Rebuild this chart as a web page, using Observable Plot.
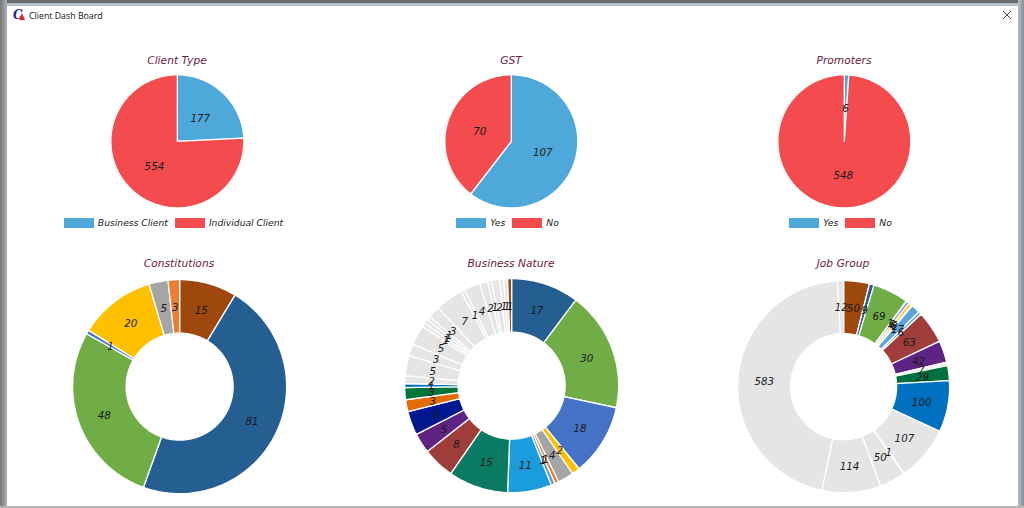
<!DOCTYPE html>
<html><head><meta charset="utf-8">
<script src="https://cdn.jsdelivr.net/npm/d3@7"></script>
<script src="https://cdn.jsdelivr.net/npm/@observablehq/plot@0.6"></script>
<style>
html,body{margin:0;padding:0;background:#fff;overflow:hidden}
body{width:1024px;height:508px;position:relative;font-family:"DejaVu Sans",sans-serif}
.abs{position:absolute}
.title{position:absolute;width:300px;text-align:center;font-style:italic;font-size:10.7px;color:#6b2142;line-height:14px}
.legend{position:absolute;width:320px;display:flex;justify-content:center;align-items:center;font-style:italic;font-size:9.2px;color:#222;line-height:12px}
.sw{display:inline-block;width:30px;height:10px;margin-right:4px}
.it{margin-right:7px;display:flex;align-items:center}
svg{overflow:visible}
</style></head><body>
<div class="abs" style="left:0;top:0;width:1024px;height:3px;background:#6a6a6a"></div>
<div class="abs" style="left:0;top:3px;width:1024px;height:3px;background:#b4c0c8"></div>
<div class="abs" style="left:0;top:0;width:7px;height:507px;background:linear-gradient(90deg,#777,#aab4ba)"></div>
<div class="abs" style="left:1018px;top:0;width:6px;height:507px;background:linear-gradient(90deg,#b4c0c8,#8a9196)"></div>
<div class="abs" style="left:0;top:506px;width:1024px;height:2px;background:#b5b5b5"></div>
<svg class="abs" style="left:13px;top:9px" width="14" height="13" viewBox="0 0 14 13"><text x="0" y="10" font-size="12" font-weight="bold" font-style="italic" fill="#1c2a8c" font-family="DejaVu Serif">C</text><path d="M6 11 L9 4 L12 11 Z" fill="#e0202a"/></svg>
<div class="abs" style="left:29px;top:10px;font-size:8.8px;line-height:13px;font-family:'Open Sans',sans-serif;color:#111">Client Dash Board</div>
<svg class="abs" style="left:1002px;top:10px" width="10" height="10"><path d="M1 1L9 9M9 1L1 9" stroke="#444" stroke-width="1"/></svg>
<script>
const clientTypeValues=[177,554];
const clientTypeLabels=["Business Client","Individual Client"];
const clientTypeColors=["#4ea8da","#f34b4e"];
const gstValues=[107,70];
const promoterValues=[6,548];
const yesNoLabels=["Yes","No"];
const constitutionValues=[15,81,48,1,20,5,3];
const constitutionColors=["#9e480e","#255e91","#70ad47","#4472c4","#ffc000","#a5a5a5","#ed7d31"];
const gray="#e5e5e5";
const businessValues=[17,30,18,2,4,1,1,11,15,8,5,6,3,3,1,2,5,3,5,1,1,1,3,7,1,4,2,1,2,1,1,1];
const businessColors=["#255e91","#70ad47","#4472c4","#ffc000","#a5a5a5","#ed7d31","#5b9bd5","#1b9cdc","#0b7a63","#9e3d3a","#5f2383","#00188f","#e36c09","#00763a","#0070c0",gray,gray,gray,gray,gray,gray,gray,gray,gray,gray,gray,gray,gray,gray,gray,gray,"#9e480e"];
const jobValues=[50,9,69,1,6,6,2,17,6,63,42,7,29,100,107,1,50,114,583,12];
const jobColors=["#9e480e","#255e91","#70ad47","#e5eef8","#7f9fdc","#ffc000","#dfeaf6","#5ba3dc","#5ba3dc","#9e3d3a","#5f2383","#eeeeee","#00703c","#0070c0",gray,gray,gray,gray,gray,gray];

const panels=[
 {title:"Client Type",values:clientTypeValues,colors:clientTypeColors,legend:clientTypeLabels,cx:177,cy:141,R:66.5,hole:0,ty:54,ly:216.5},
 {title:"GST",values:gstValues,colors:clientTypeColors,legend:yesNoLabels,cx:511,cy:141,R:66.5,hole:0,ty:54,ly:216.5},
 {title:"Promoters",values:promoterValues,colors:clientTypeColors,legend:yesNoLabels,cx:844,cy:141,R:66.5,hole:0,ty:54,ly:216.5},
 {title:"Constitutions",values:constitutionValues,colors:constitutionColors,cx:179,cy:386,R:107,hole:.5,ty:257},
 {title:"Business Nature",values:businessValues,colors:businessColors,cx:511,cy:385,R:107,hole:.5,ty:257},
 {title:"Job Group",values:jobValues,colors:jobColors,cx:843,cy:386,R:106,hole:.5,ty:257}
];

function slices(values,colors,hole){
  const total=d3.sum(values);
  const polys=[],labels=[];let acc=0;
  values.forEach((v,i)=>{
    const a0=acc/total*2*Math.PI,a1=(acc+v)/total*2*Math.PI;acc+=v;
    const n=Math.max(2,Math.ceil((a1-a0)/0.03));
    const outer=d3.range(n+1).map(k=>a0+(a1-a0)*k/n);
    const ring=outer.map(a=>[a,1]).concat(hole?outer.slice().reverse().map(a=>[a,hole]):[[0,0]]);
    ring.forEach(([a,r],j)=>polys.push({slice:i,order:j,x:r*Math.sin(a),y:r*Math.cos(a),color:colors[i]}));
    const am=(a0+a1)/2,rm=hole?(1+hole)/2:.5;
    labels.push({x:rm*Math.sin(am),y:rm*Math.cos(am),text:String(v)});
  });
  return {polys,labels};
}
for(const p of panels){
  const {polys,labels}=slices(p.values,p.colors,p.hole);
  const pad=1.02,size=2*p.R*pad;
  const chart=Plot.plot({
    width:size,height:size,margin:0,
    x:{domain:[-pad,pad],axis:null},y:{domain:[-pad,pad],axis:null},
    color:{type:"identity"},
    marks:[
      Plot.line(polys,{x:"x",y:"y",z:"slice",fill:"color",stroke:"#fff",strokeWidth:1.3,curve:"linear-closed"}),
      Plot.text(labels,{x:"x",y:"y",dy:1,text:"text",fontSize:10.3,fontStyle:"italic",fill:"#1a1a1a",fontFamily:"'DejaVu Sans',sans-serif"})
    ]
  });
  chart.style.position="absolute";chart.style.left=(p.cx-size/2)+"px";chart.style.top=(p.cy-size/2)+"px";
  chart.style.background="none";chart.style.maxWidth="none";
  document.body.appendChild(chart);
  const t=document.createElement("div");t.className="title";t.textContent=p.title;
  t.style.left=(p.cx-150)+"px";t.style.top=p.ty+"px";document.body.appendChild(t);
  if(p.legend){
    const l=document.createElement("div");l.className="legend";l.style.left=(p.cx-160)+"px";l.style.top=p.ly+"px";
    p.legend.forEach((name,i)=>{
      const it=document.createElement("span");it.className="it";
      const sw=document.createElement("span");sw.className="sw";sw.style.background=p.colors[i];
      it.appendChild(sw);it.appendChild(document.createTextNode(name));l.appendChild(it);
    });
    document.body.appendChild(l);
  }
}
</script>
</body></html>
